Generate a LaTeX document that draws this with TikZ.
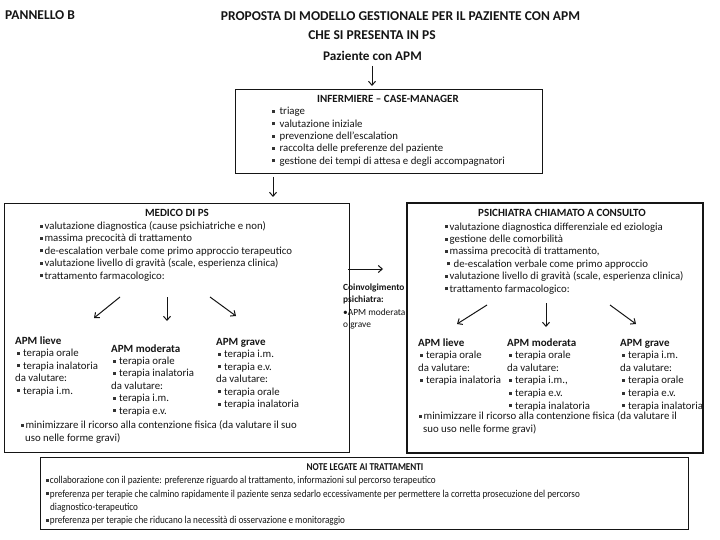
\documentclass[tikz,border=0pt]{standalone}
\usepackage{fontspec}
\setmainfont{Carlito}
\usetikzlibrary{arrows.meta}
\definecolor{ink}{HTML}{151515}
\definecolor{bulc}{HTML}{333333}
\newcommand\bsq{{\color{bulc}\rule[0.17em]{0.27em}{0.27em}}}
\newcommand\cond[1]{\scalebox{0.87}[1]{#1}}
\begin{document}
\begin{tikzpicture}[x=1pt,y=-1pt, font=\fontsize{10.8}{13}\selectfont, text=ink,
 txt/.style={anchor=base west, inner sep=0pt},
 ctxt/.style={anchor=base, inner sep=0pt},
 hd/.style={font=\fontsize{13.5}{15}\selectfont\bfseries},
 sub/.style={font=\fontsize{11}{13}\selectfont\bfseries},
 notef/.style={font=\fontsize{10.5}{12}\selectfont},
 midf/.style={font=\fontsize{9.4}{11}\selectfont},
 box/.style={draw=ink, line width=0.9pt, inner sep=0pt, anchor=north west},
 arr/.style={draw=ink, line width=1pt, -{Straight Barb[length=4pt,width=7pt]}},
]
\useasboundingbox (0,0) rectangle (720,540);

% header
\node[txt, hd] (pan) at (5,20) {PANNELLO B};
\node[ctxt, hd] (t1) at (400.5,20.5) {PROPOSTA DI MODELLO GESTIONALE PER IL PAZIENTE CON APM};
\node[ctxt, hd] (t2) at (372,40) {CHE SI PRESENTA IN PS};
\node[ctxt, font=\fontsize{13.2}{15}\selectfont\bfseries] (paz) at (372.5,60.5) {Paziente con APM};

% boxes
\node[box, minimum width=307pt, minimum height=84pt] (inf) at (235,89) {};
\node[box, minimum width=345pt, minimum height=249pt] (med) at (4,203) {};
\node[box, line width=1.8pt, minimum width=296pt, minimum height=250pt] (psi) at (406,202) {};
\node[box, minimum width=648pt, minimum height=72pt] (note) at (40,457) {};

\coordinate (pz1) at (372,66); \coordinate (pz2) at (372,86);
\draw[arr] (pz1) -- (pz2);

% infermiere
\node[ctxt, sub] (infT) at (388,103) {INFERMIERE -- CASE-MANAGER};
\foreach \t [count=\i] in {triage, valutazione iniziale, prevenzione dell’escalation,
  raccolta delle preferenze del paziente, gestione dei tempi di attesa e degli accompagnatori}
  \node[txt] (inf\i) at (272,102.6+12.3*\i) {\bsq\hspace{4.5pt}\t};

\coordinate (a1s) at (273,177);
\coordinate (a1e) at (273,197);
\draw[arr] (a1s) -- (a1e);

% medico
\node[ctxt, sub] (medT) at (177,217) {MEDICO DI PS};
\foreach \t [count=\i] in {valutazione diagnostica (cause psichiatriche e non),
  massima precocità di trattamento, de-escalation verbale come primo approccio terapeutico,
  {valutazione livello di gravità (scale, esperienza clinica)}, trattamento farmacologico:}
  \node[txt] (med\i) at (40,217+12.4*\i) {\bsq\hspace{1.5pt}\t};

\coordinate (m1s) at (120,297); \coordinate (m1e) at (94,318);
\coordinate (m2s) at (167,297); \coordinate (m2e) at (167,321);
\coordinate (m3s) at (210,297); \coordinate (m3e) at (236,316);
\draw[arr] (m1s) -- (m1e);
\draw[arr] (m2s) -- (m2e);
\draw[arr] (m3s) -- (m3e);

\node[txt, sub] (mlT) at (15,344) {APM lieve};
\foreach \t [count=\i] in {\hspace{2pt}\bsq\hspace{3pt}terapia orale, \hspace{2pt}\bsq\hspace{3pt}terapia inalatoria,
  da valutare:, \hspace{2pt}\bsq\hspace{3pt}terapia i.m.}
  \node[txt] (ml\i) at (15,344+12.5*\i) {\t};
\node[txt, sub] (mmT) at (111,352) {APM moderata};
\foreach \t [count=\i] in {\hspace{2pt}\bsq\hspace{3pt}terapia orale, \hspace{2pt}\bsq\hspace{3pt}terapia inalatoria,
  da valutare:, \hspace{2pt}\bsq\hspace{3pt}terapia i.m., \hspace{2pt}\bsq\hspace{3pt}terapia e.v.}
  \node[txt] (mm\i) at (111,352+12.4*\i) {\t};
\node[txt, sub] (mgT) at (216,345) {APM grave};
\foreach \t [count=\i] in {\hspace{2pt}\bsq\hspace{3pt}terapia i.m., \hspace{2pt}\bsq\hspace{3pt}terapia e.v.,
  da valutare:, \hspace{2pt}\bsq\hspace{3pt}terapia orale, \hspace{2pt}\bsq\hspace{3pt}terapia inalatoria}
  \node[txt] (mg\i) at (216,345+12.5*\i) {\t};

\node[txt] (mmin1) at (21,428.5) {\bsq\hspace{1.5pt}minimizzare il ricorso alla contenzione fisica (da valutare il suo};
\node[txt] (mmin2) at (25,441.5) {uso nelle forme gravi)};

% middle
\coordinate (c1s) at (348,269); \coordinate (c1e) at (383,269);
\draw[arr] (c1s) -- (c1e);
\node[txt, font=\fontsize{9.4}{11}\selectfont\bfseries] (co1) at (343,290.5) {Coinvolgimento};
\node[txt, font=\fontsize{9.4}{11}\selectfont\bfseries] (co2) at (343,302.5) {psichiatra:};
\node[txt, midf] (co3) at (343,315) {•APM moderata};
\node[txt, midf] (co4) at (343,327) {o grave};

% psichiatra
\node[ctxt, sub] (psiT) at (562,216) {PSICHIATRA CHIAMATO A CONSULTO};
\foreach \t [count=\i] in {\bsq\hspace{1.5pt}valutazione diagnostica differenziale ed eziologia,
  \bsq\hspace{1.5pt}gestione delle comorbilità, {\bsq\hspace{1.5pt}massima precocità di trattamento,},
  \hspace{2pt}\bsq\hspace{3.5pt}de-escalation verbale come primo approccio,
  {\bsq\hspace{1.5pt}valutazione livello di gravità (scale, esperienza clinica)}, \bsq\hspace{1.5pt}trattamento farmacologico:}
  \node[txt] (psi\i) at (445,217.6+12.4*\i) {\t};

\coordinate (p1s) at (487,305); \coordinate (p1e) at (457,324);
\coordinate (p2s) at (546,303); \coordinate (p2e) at (546,327);
\coordinate (p3s) at (610,305); \coordinate (p3e) at (636,324);
\draw[arr] (p1s) -- (p1e);
\draw[arr] (p2s) -- (p2e);
\draw[arr] (p3s) -- (p3e);

\node[txt, sub] (plT) at (418,346) {APM lieve};
\foreach \t [count=\i] in {\hspace{2pt}\bsq\hspace{3pt}terapia orale, da valutare:,
  \hspace{2pt}\bsq\hspace{3pt}terapia inalatoria}
  \node[txt] (pl\i) at (418,346+12.6*\i) {\t};
\node[txt, sub] (pmT) at (507,346) {APM moderata};
\foreach \t [count=\i] in {\hspace{2pt}\bsq\hspace{3pt}terapia orale, da valutare:,
  {\hspace{2pt}\bsq\hspace{3pt}terapia i.m.,}, \hspace{2pt}\bsq\hspace{3pt}terapia e.v.,
  \hspace{2pt}\bsq\hspace{3pt}terapia inalatoria}
  \node[txt] (pm\i) at (507,346+12.6*\i) {\t};
\node[txt, sub] (pgT) at (620,346) {APM grave};
\foreach \t [count=\i] in {\hspace{2pt}\bsq\hspace{3pt}terapia i.m., da valutare:,
  \hspace{2pt}\bsq\hspace{3pt}terapia orale, \hspace{2pt}\bsq\hspace{3pt}terapia e.v.,
  \hspace{2pt}\bsq\hspace{3pt}terapia inalatoria}
  \node[txt] (pg\i) at (620,346+12.6*\i) {\t};

\node[txt] (pmin1) at (419,419.5) {\bsq\hspace{1.5pt}minimizzare il ricorso alla contenzione fisica (da valutare il};
\node[txt] (pmin2) at (423,432.5) {suo uso nelle forme gravi)};

% note
\node[ctxt, font=\fontsize{10.5}{12}\selectfont\bfseries] (noteT) at (365,470) {\cond{NOTE LEGATE AI TRATTAMENTI}};
\node[txt, notef] (n1) at (46,483.5) {\cond{\bsq\hspace{1.5pt}collaborazione con il paziente: preferenze riguardo al trattamento, informazioni sul percorso terapeutico}};
\node[txt, notef] (n2) at (46,497) {\cond{\bsq\hspace{1.5pt}preferenza per terapie che calmino rapidamente il paziente senza sedarlo eccessivamente per permettere la corretta prosecuzione del percorso}};
\node[txt, notef] (n3) at (50,510) {\cond{diagnostico-terapeutico}};
\node[txt, notef] (n4) at (46,523.5) {\cond{\bsq\hspace{1.5pt}preferenza per terapie che riducano la necessità di osservazione e monitoraggio}};
\end{tikzpicture}
\end{document}
